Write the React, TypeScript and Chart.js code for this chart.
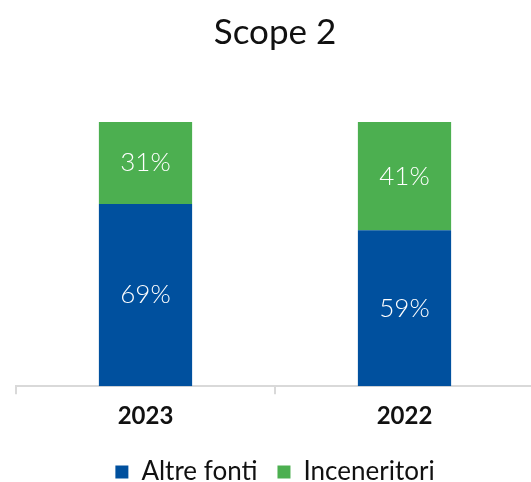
import React, { useEffect, useRef } from "react";
import { Chart, registerables } from "chart.js";

Chart.register(...registerables);

const titleText = "Scope 2";
const categories = ["2023", "2022"];
const seriesNames = ["Altre fonti", "Inceneritori"];
const altreFonti = [69, 59];
const inceneritori = [31, 41];
const seriesColors = ["#00509E", "#4CAF50"];

const FONT = "Lato, 'DejaVu Sans', sans-serif";

const barLabelsPlugin = {
  id: "barLabels",
  afterDatasetsDraw(chart: any) {
    const ctx = chart.ctx;
    ctx.save();
    ctx.fillStyle = "#ffffff";
    ctx.font = `300 26px ${FONT}`;
    ctx.textAlign = "center";
    ctx.textBaseline = "middle";
    chart.data.datasets.forEach((ds: any, di: number) => {
      const meta = chart.getDatasetMeta(di);
      meta.data.forEach((el: any, i: number) => {
        const v = ds.data[i];
        const y = (el.y + el.base) / 2;
        ctx.fillText(`${v}%`, el.x, y);
      });
    });
    ctx.restore();
  },
};

export default function App() {
  const ref = useRef<HTMLCanvasElement | null>(null);
  useEffect(() => {
    document.body.style.margin = "0";
    if (!ref.current) return;
    const chart = new Chart(ref.current, {
      type: "bar",
      data: {
        labels: categories,
        datasets: [
          {
            label: seriesNames[0],
            data: altreFonti,
            backgroundColor: seriesColors[0],
            barPercentage: 0.36,
            categoryPercentage: 1,
          },
          {
            label: seriesNames[1],
            data: inceneritori,
            backgroundColor: seriesColors[1],
            barPercentage: 0.36,
            categoryPercentage: 1,
          },
        ],
      },
      options: {
        responsive: false,
        animation: false,
        layout: { padding: { left: 16, right: 16, top: 0, bottom: 0 } },
        scales: {
          x: {
            stacked: true,
            grid: {
              offset: true,
              drawOnChartArea: false,
              drawTicks: true,
              tickLength: 8,
              color: "#d9d9d9",
              lineWidth: 2,
            },
            border: { display: true, color: "#d9d9d9", width: 2 },
            ticks: {
              color: "#111111",
              font: { family: FONT, size: 24, weight: "bold" },
              padding: 8,
            },
          },
          y: {
            stacked: true,
            display: false,
            min: 0,
            max: 100,
          },
        },
        plugins: {
          title: {
            display: true,
            text: titleText,
            color: "#111111",
            font: { family: FONT, size: 35, weight: "normal" },
            padding: { top: 12, bottom: 68 },
          },
          legend: {
            position: "bottom",
            labels: {
              boxWidth: 13,
              boxHeight: 13,
              padding: 20,
              color: "#111111",
              font: { family: FONT, size: 26 },
            },
          },
          tooltip: { enabled: false },
        },
      },
      plugins: [barLabelsPlugin],
    } as any);
    return () => chart.destroy();
  }, []);
  return (
    <div style={{ width: 531, height: 482, overflow: "hidden", position: "relative", background: "#fff" }}>
      <canvas ref={ref} width={550} height={495} style={{ display: "block" }} />
    </div>
  );
}
